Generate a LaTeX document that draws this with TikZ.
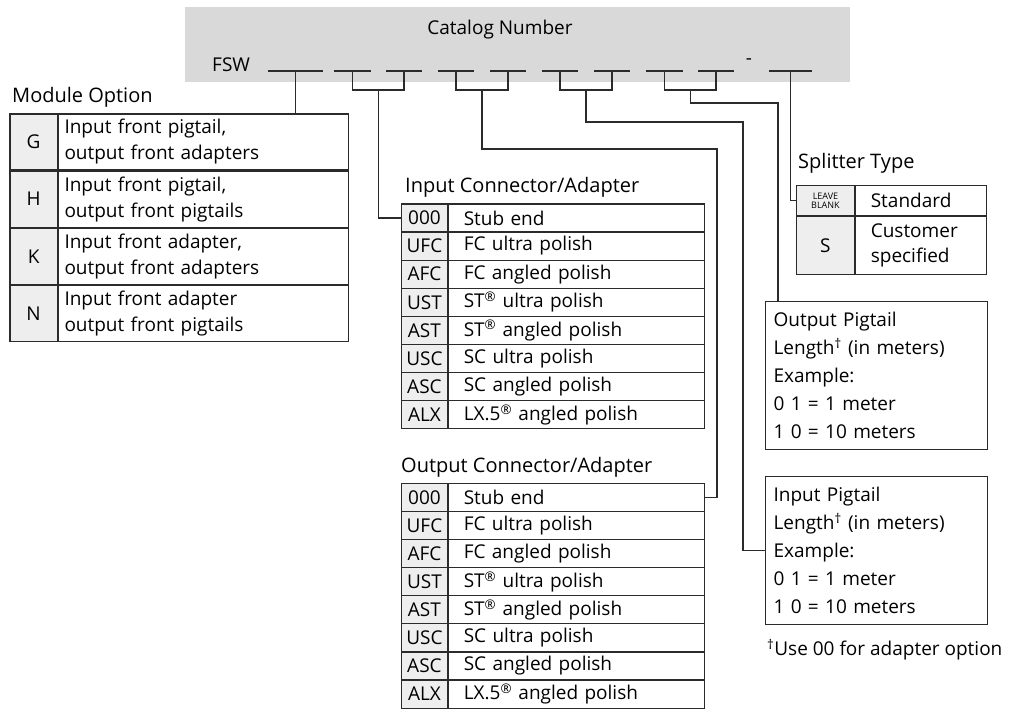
\documentclass[tikz,border=0pt]{standalone}
\usepackage{fontspec}
\setmainfont{Open Sans}
\usetikzlibrary{positioning,calc}
\definecolor{BannerGray}{HTML}{D9D9D9}
\definecolor{CodeGray}{HTML}{EEEEEE}
\definecolor{RuleDark}{HTML}{2B2B2B}

\begin{document}
\begin{tikzpicture}[x=1pt,y=-1pt,
  every node/.style={font=\fontsize{19}{26}\selectfont},
  title/.style={anchor=west,inner sep=0pt,font=\fontsize{20}{24}\selectfont},
  blank/.style={draw=RuleDark,line width=1.2pt},
  link/.style={draw=RuleDark,line width=1.2pt},
  code/.style={draw=RuleDark,line width=1.2pt,fill=CodeGray,inner sep=0pt,
               anchor=north west,align=center},
  desc/.style={draw=RuleDark,line width=1.2pt,inner ysep=0pt,anchor=north west,
               align=left},
  lengthbox/.style={draw=RuleDark,line width=1.2pt,anchor=north west,inner xsep=8pt,
                    inner ysep=0pt,text width=206pt,minimum height=148pt,align=left,
                    font=\fontsize{19}{28}\selectfont}
]
  \useasboundingbox (0,0) rectangle (1018,709);

  % catalog number banner
  \fill[BannerGray] (185,7) rectangle (850,82);
  \node (catalog) at (500,30) {Catalog Number};
  \node[anchor=base west,inner sep=0pt] (fsw) at (212,72) {FSW};
  \foreach \n/\a/\b in {bm/268/323, bi1/334/371, bi2/386/422, bo1/438/474, bo2/490/526,
                        bp1/542/578, bp2/594/630, bq1/646/683, bq2/698/734, bs/769/812}
    \draw[blank] (\a,71) -- node[coordinate] (\n) {} (\b,71);
  \node (dash) at (749,62) {-};

  % module option
  \node[title] (modtitle) at (12,97) {Module Option};
  \node[code,minimum width=47.4pt,minimum height=56pt] (modGc) at (9.3,113.3) {G};
  \node[desc,inner xsep=6pt,text width=278pt,minimum height=56pt,anchor=north west]
    (modGd) at (modGc.north east) {Input front pigtail,\\output front adapters};
  \node[code,minimum width=47.4pt,minimum height=56pt] (modHc) at (modGc.south west) {H};
  \node[desc,inner xsep=6pt,text width=278pt,minimum height=56pt]
    (modHd) at (modHc.north east) {Input front pigtail,\\output front pigtails};
  \node[code,minimum width=47.4pt,minimum height=56pt] (modKc) at (modHc.south west) {K};
  \node[desc,inner xsep=6pt,text width=278pt,minimum height=56pt]
    (modKd) at (modKc.north east) {Input front adapter,\\output front adapters};
  \node[code,minimum width=47.4pt,minimum height=56pt] (modNc) at (modKc.south west) {N};
  \node[desc,inner xsep=6pt,text width=278pt,minimum height=56pt]
    (modNd) at (modNc.north east) {Input front adapter\\output front pigtails};

  % connector / adapter tables
  \node[title] (intitle) at (405,187) {Input Connector/Adapter};
  \node[title] (outtitle) at (401,467) {Output Connector/Adapter};
  \foreach \tab/\top in {in/203.3, out/482.7}{
    \foreach \c/\d [count=\i] in {000/Stub end, UFC/FC ultra polish, AFC/FC angled polish,
        UST/ST\textsuperscript{\textregistered} ultra polish,
        AST/ST\textsuperscript{\textregistered} angled polish,
        USC/SC ultra polish, ASC/SC angled polish,
        ALX/LX.5\textsuperscript{\textregistered} angled polish}{
      \node[code,minimum width=46.3pt,minimum height=28.1pt] (\tab c\i)
        at (400.7,\top+28.1*\i-28.1) {\c};
      \node[desc,inner xsep=15pt,text width=226pt,minimum height=28.1pt]
        (\tab d\i) at (\tab c\i.north east) {\d};
    }
  }

  % splitter type
  \node[title] (splittitle) at (798,163) {Splitter Type};
  \node[code,minimum width=58.3pt,minimum height=30pt,
        font=\fontsize{9}{9}\selectfont] (sp1c) at (795.7,185) {LEAVE\\BLANK};
  \node[desc,inner xsep=15pt,text width=101pt,minimum height=30pt]
    (sp1d) at (sp1c.north east) {Standard};
  \node[code,minimum width=58.3pt,minimum height=58pt] (sp2c) at (sp1c.south west) {S};
  \node[desc,inner xsep=15pt,text width=101pt,minimum height=58pt,
        font=\fontsize{19}{25}\selectfont] (sp2d) at (sp2c.north east) {Customer\\specified};

  % pigtail lengths
  \node[lengthbox] (outpig) at (765,301) {Output Pigtail\\Length\textsuperscript{†} (in meters)\\Example:\\0 1 = 1 meter\\1 0 = 10 meters};
  \node[lengthbox] (inpig) at (765,476) {Input Pigtail\\Length\textsuperscript{†} (in meters)\\Example:\\0 1 = 1 meter\\1 0 = 10 meters};
  \node[anchor=west,inner sep=0pt] (note) at (767,650) {\textsuperscript{†}Use 00 for adapter option};

  % brackets under the blanks
  \coordinate (ji) at ($(bi1)!0.5!(bi2)+(0,19)$);
  \coordinate (jo) at ($(bo1)!0.5!(bo2)+(0,19)$);
  \coordinate (jp) at ($(bp1)!0.5!(bp2)+(0,19)$);
  \coordinate (jq) at ($(bq1)!0.5!(bq2)+(0,19)$);
  \draw[link] (bi1) |- (ji) -| (bi2);
  \draw[link] (bo1) |- (jo) -| (bo2);
  \draw[link] (bp1) |- (jp) -| (bp2);
  \draw[link] (bq1) |- (jq) -| (bq2);
  \coordinate (xo) at (717,149);
  \coordinate (xp) at (743,122);
  \coordinate (xq) at (778,103);

  % leaders to the option tables
  \draw[link] (bm) -- (bm |- modGd.north);
  \draw[link] (ji) |- (inc1.west);
  \draw[link] (jo) |- (xo) |- (outd1.east);
  \draw[link] (jp) |- (xp) |- (inpig.west);
  \draw[link] (jq) |- (xq) -- (xq |- outpig.north);
  \draw[link] (bs) |- (sp1c.west);
\end{tikzpicture}
\end{document}
